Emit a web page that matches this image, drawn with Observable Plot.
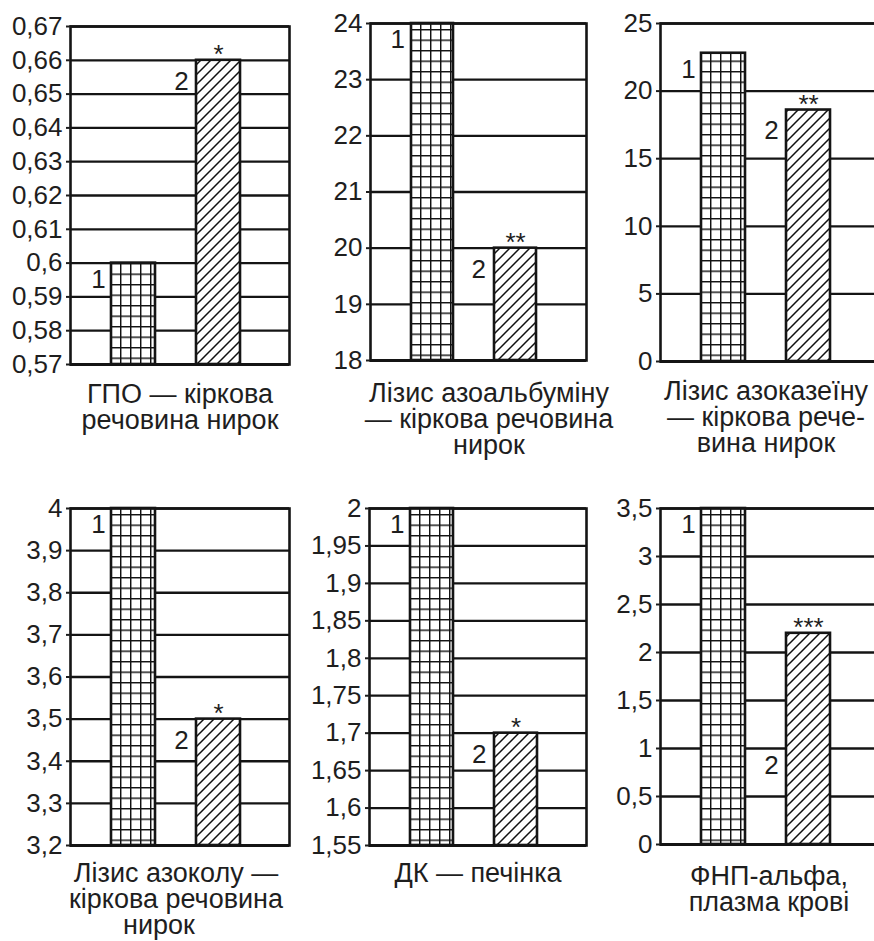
<!DOCTYPE html>
<html><head><meta charset="utf-8">
<script src="https://cdn.jsdelivr.net/npm/d3@7"></script>
<script src="https://cdn.jsdelivr.net/npm/@observablehq/plot@0.6"></script>
<style>
html,body{margin:0;padding:0;background:#fff;overflow:hidden;}
#chart{position:relative;width:874px;height:941px;font-family:"Liberation Sans",Arial,sans-serif;color:#1e1e1e;overflow:hidden;}
#chart svg{position:absolute;}
.cap{position:absolute;width:400px;text-align:center;font-size:27px;line-height:26px;white-space:nowrap;}
.cap span{position:relative;}
</style></head><body>
<svg width="0" height="0" style="position:absolute">
  <defs>
    <pattern id="cross" patternUnits="userSpaceOnUse" width="10" height="10.5">
      <rect width="10" height="10.5" fill="#fff"/>
      <path d="M0.5,0V10.5M0,0.5H10" stroke="#111" stroke-width="1.9" fill="none"/>
    </pattern>
    <pattern id="hatch" patternUnits="userSpaceOnUse" width="10" height="10">
      <rect width="10" height="10" fill="#fff"/>
      <path d="M-1,1L1,-1M0,10L10,0M9,11L11,9" stroke="#111" stroke-width="1.5" fill="none"/>
    </pattern>
  </defs>
</svg>
<div id="chart"></div>
<script>
// ---- data ----
const groups = ["1", "2"];
const group1 = [0.60, 24, 22.8, 4, 2, 3.5];
const group2 = [0.66, 20, 18.6, 3.5, 1.7, 2.2];
const stars = ["*", "**", "**", "*", "*", "***"];
const yMin = [0.57, 18, 0, 3.2, 1.55, 0];
const yMax = [0.67, 24, 25, 4, 2, 3.5];
const yTicks = [
  [0.57, 0.58, 0.59, 0.6, 0.61, 0.62, 0.63, 0.64, 0.65, 0.66, 0.67],
  [18, 19, 20, 21, 22, 23, 24],
  [0, 5, 10, 15, 20, 25],
  [3.2, 3.3, 3.4, 3.5, 3.6, 3.7, 3.8, 3.9, 4],
  [1.55, 1.6, 1.65, 1.7, 1.75, 1.8, 1.85, 1.9, 1.95, 2],
  [0, 0.5, 1, 1.5, 2, 2.5, 3, 3.5]
];
const captions = [
  ["ГПО — кіркова", "речовина нирок"],
  ["Лізис азоальбуміну", "— кіркова речовина", "нирок"],
  ["Лізис азоказеїну", "— кіркова рече-", "вина нирок"],
  ["Лізис азоколу —", "кіркова речовина", "нирок"],
  ["ДК — печінка"],
  ["ФНП-альфа,", "плазма крові"]
];
const label2At = [null, null, null, null, null, 0.93];

// ---- layout ----
const layout = [
  {x0: 70,  w: 219, top: 26,  bottom: 364, cx: 180, base: 403, off: [0, 0]},
  {x0: 370, w: 216, top: 23,  bottom: 360, cx: 489, base: 402, off: [0, 0, 0]},
  {x0: 660, w: 219, top: 23,  bottom: 361, cx: 766, base: 400, off: [0, 0, 0]},
  {x0: 70,  w: 219, top: 508, bottom: 845, cx: 176, base: 882, off: [0, 0, -17]},
  {x0: 369, w: 217, top: 508, bottom: 845, cx: 478, base: 882, off: [0]},
  {x0: 660, w: 219, top: 508, bottom: 844, cx: 769, base: 885, off: [0, 0]}
];

const chart = document.getElementById("chart");
const fmt = d => String(d).replace(".", ",");
const ink = "#141414";
const txt = "#1e1e1e";
const fs = 26;
const pi = 0.488, po = 0.532, align = 0.456;

layout.forEach((L, i) => {
  const data = groups.map((g, j) => ({
    group: g,
    value: j ? group2[i] : group1[i],
    star: j ? stars[i] : ""
  }));
  const mT = 15, mB = 6, mL = 70, mR = 3;
  const height = mT + (L.bottom - L.top) + mB;
  const width = mL + L.w + mR;
  const step = L.w / (2 - pi + 2 * po);
  const bw = step * (1 - pi);
  const d1 = data.filter(d => d.group === "1");
  const d2 = data.filter(d => d.group === "2");
  const top = d => Math.min(d.value, yMax[i]);
  const plot = Plot.plot({
    width, height,
    marginTop: mT, marginBottom: mB, marginLeft: mL, marginRight: mR,
    style: {fontFamily: '"Liberation Sans", Arial, sans-serif', fontSize: fs + "px", color: txt, background: "transparent", overflow: "visible"},
    x: {type: "band", domain: groups, paddingInner: pi, paddingOuter: po, align, axis: null},
    y: {domain: [yMin[i], yMax[i]], axis: null, label: null},
    marks: [
      Plot.ruleY(yTicks[i], {stroke: ink, strokeWidth: 2.3}),
      Plot.barY(d1, {x: "group", y1: yMin[i], y2: top, fill: "url(#cross)", stroke: ink, strokeWidth: 2.6}),
      Plot.barY(d2, {x: "group", y1: yMin[i], y2: top, fill: "url(#hatch)", stroke: ink, strokeWidth: 2.6}),
      Plot.frame({stroke: ink, strokeWidth: 2.6}),
      Plot.ruleY([yMin[i]], {stroke: ink, strokeWidth: 3.2}),
      Plot.axisY({ticks: yTicks[i], tickFormat: fmt, tickSize: 4, tickPadding: 4, strokeWidth: 2, fontSize: fs, label: null, anchor: "left"}),
      Plot.text(d1, {x: "group", y: top, text: "group", textAnchor: "end", lineAnchor: "top", dx: -bw / 2 - 6, dy: 6, fontSize: fs, fill: txt}),
      Plot.text(d2, {x: "group", y: d => label2At[i] != null ? label2At[i] : d.value, text: "group", textAnchor: "end", lineAnchor: "top", dx: -bw / 2 - 8, dy: label2At[i] != null ? 0 : 11, fontSize: fs, fill: txt}),
      Plot.text(d2, {x: "group", y: "value", text: "star", lineAnchor: "bottom", dy: 3, fontSize: fs, fill: txt})
    ]
  });
  plot.style.left = (L.x0 - mL) + "px";
  plot.style.top = (L.top - mT) + "px";
  chart.appendChild(plot);

  const div = document.createElement("div");
  div.className = "cap";
  captions[i].forEach((line, k) => {
    if (k) div.appendChild(document.createElement("br"));
    const span = document.createElement("span");
    span.textContent = line;
    span.style.left = L.off[k] + "px";
    div.appendChild(span);
  });
  div.style.left = (L.cx - 200) + "px";
  div.style.top = (L.base - 22.4) + "px";
  chart.appendChild(div);
});
</script>
</body></html>
